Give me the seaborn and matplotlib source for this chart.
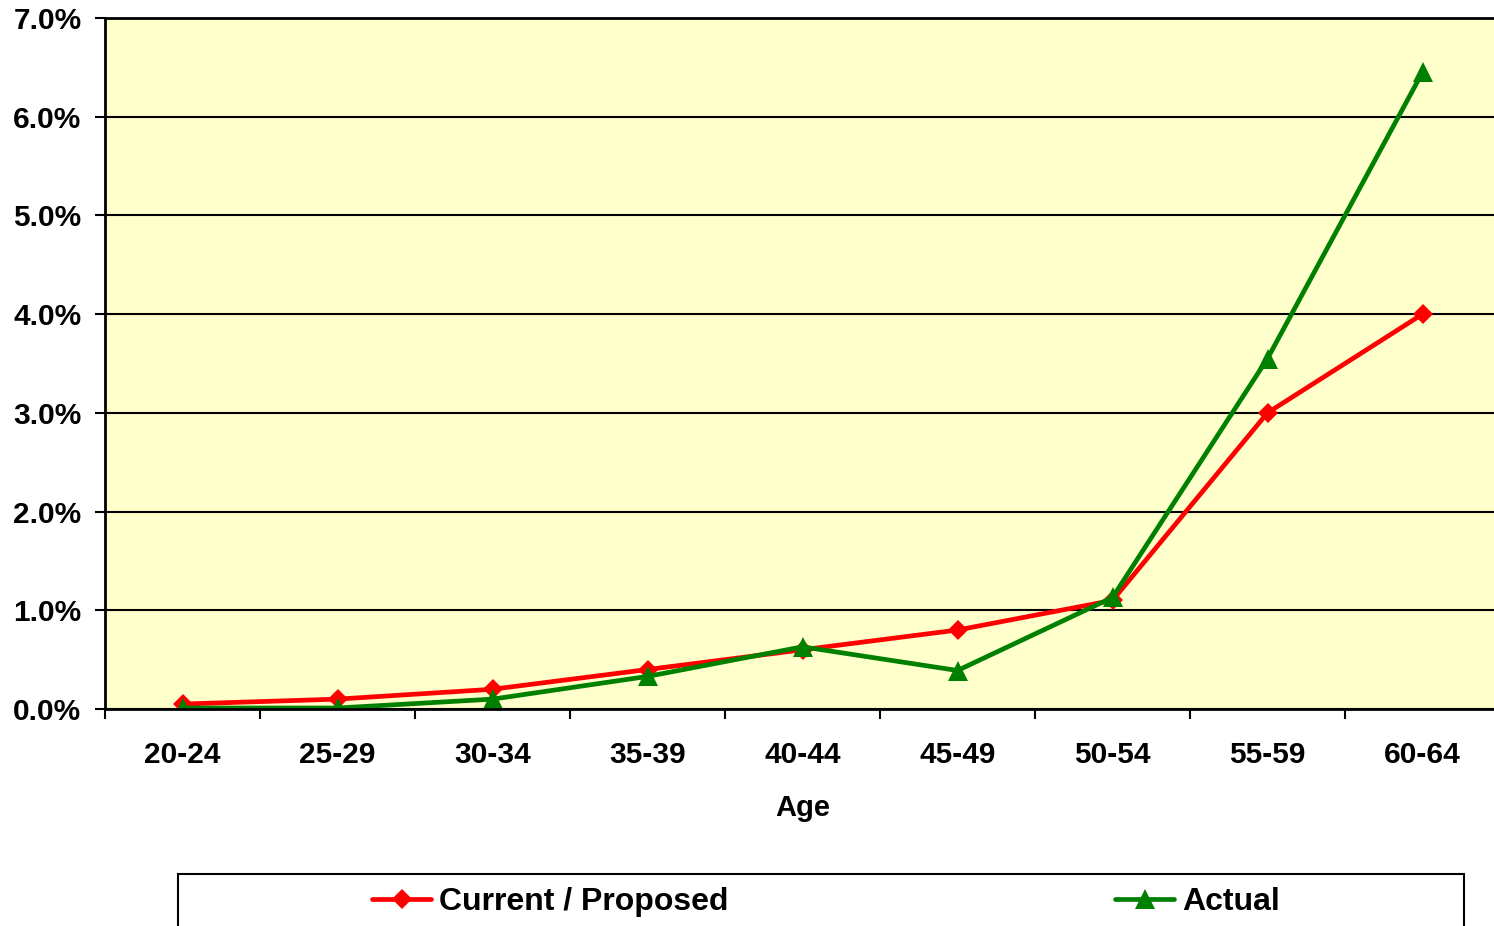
import pandas as pd
import seaborn as sns
import matplotlib.pyplot as plt
from matplotlib.patches import Rectangle
from matplotlib.ticker import FuncFormatter, FixedLocator

# age bands and rates (in %)
ages = ["20-24", "25-29", "30-34", "35-39", "40-44", "45-49", "50-54", "55-59", "60-64"]
current = [0.05, 0.10, 0.20, 0.40, 0.60, 0.80, 1.10, 3.00, 4.00]
actual = [0.01, 0.01, 0.10, 0.33, 0.63, 0.39, 1.13, 3.55, 6.45]

sns.set_style("white")
plt.rcParams["font.family"] = ["Liberation Sans", "DejaVu Sans"]
plt.rcParams["font.weight"] = "bold"
plt.rcParams["text.color"] = "black"
plt.rcParams["axes.labelcolor"] = "black"
plt.rcParams["xtick.color"] = "black"
plt.rcParams["ytick.color"] = "black"

fig = plt.figure(figsize=(14.94, 9.26), dpi=100)
W, H = 1494, 926
ax = fig.add_axes([105 / W, 1 - 709 / H, 1395 / W, (709 - 18) / H])
ax.set_facecolor("#FFFFCC")

pos = list(range(len(ages)))
sns.lineplot(x=pos, y=current, ax=ax, color="#FF0000", lw=3.4, marker="D",
             markersize=10.5, markeredgewidth=0, label="Current / Proposed")
sns.lineplot(x=pos, y=actual, ax=ax, color="#008000", lw=3.4, marker="^",
             markersize=14, markeredgewidth=0, label="Actual")

ax.set_xlim(-0.5, len(ages) - 0.5)
ax.set_ylim(0, 7)
ax.set_xticks(pos)
ax.set_xticklabels(ages)
ax.xaxis.set_minor_locator(FixedLocator([p - 0.5 for p in range(len(ages) + 1)]))
ax.tick_params(axis="x", which="major", bottom=True, length=0, pad=23, labelsize=21.5)
ax.tick_params(axis="x", which="minor", bottom=True, length=7, width=1.5, color="black", direction="out")
ax.set_yticks(range(8))
ax.yaxis.set_major_formatter(FuncFormatter(lambda v, p: f"{v:.1f}%"))
ax.tick_params(axis="y", left=True, length=7, width=1.5, color="black", direction="out", pad=10, labelsize=21.5)
for lbl in ax.get_xticklabels() + ax.get_yticklabels():
    lbl.set_fontweight("bold")

ax.grid(axis="y", color="black", lw=1.5)
ax.set_axisbelow(True)
for side in ["left", "bottom", "top"]:
    ax.spines[side].set_color("black")
    ax.spines[side].set_linewidth(2)
ax.spines["right"].set_visible(False)

ax.set_xlabel("Age", fontsize=21, fontweight="bold", labelpad=18)
ax.set_ylabel("")

handles, labels = ax.get_legend_handles_labels()
ax.get_legend().remove()
fig.legend(handles, labels, ncol=2, frameon=False, loc="center left",
           bbox_to_anchor=(372 / W, 1 - 902 / H), borderaxespad=0, borderpad=0,
           handlelength=1.85, handletextpad=0.25, columnspacing=12.1,
           prop={"weight": "bold", "size": 23})
fig.patches.append(Rectangle((178 / W, -0.05), (1464 - 178) / W, 0.05 + (926 - 874) / H,
                             transform=fig.transFigure, fill=False, edgecolor="black",
                             lw=1.5))

fig.savefig("out.png", dpi=100)
